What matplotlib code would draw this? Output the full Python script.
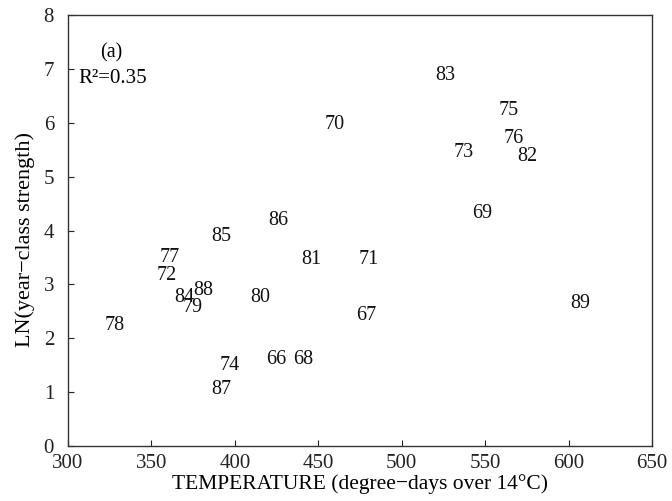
import matplotlib
matplotlib.use("Agg")
import matplotlib.pyplot as plt

years = ["66", "67", "68", "69", "70", "71", "72", "73", "74", "75", "76", "77",
         "78", "79", "80", "81", "82", "83", "84", "85", "86", "87", "88", "89"]
temperature = [425, 479, 441, 548, 460, 480, 359, 537, 397, 564, 567, 361,
               328, 375, 415, 446, 575, 526, 370, 392, 426, 392, 381, 607]
ln_strength = [1.61, 2.43, 1.60, 4.32, 5.96, 3.47, 3.17, 5.44, 1.50, 6.23, 5.70, 3.49,
               2.23, 2.58, 2.76, 3.47, 5.38, 6.88, 2.76, 3.88, 4.19, 1.04, 2.88, 2.65]

xticks = [300, 350, 400, 450, 500, 550, 600, 650]
yticks = [0, 1, 2, 3, 4, 5, 6, 7, 8]

plt.rcParams['font.family'] = ['Liberation Serif', 'DejaVu Serif']

fig = plt.figure(figsize=(6.72, 5.01), dpi=100)
ax = fig.add_axes([68 / 672, 1 - 446 / 501, (652 - 68) / 672, (446 - 15) / 501])

for yr, x, y in zip(years, temperature, ln_strength):
    ax.text(x, y, yr, ha='center', va='center', fontsize=14.5, color='#111111')

ax.set_xlim(300, 650)
ax.set_ylim(0, 8)
ax.set_xticks(xticks)
ax.set_yticks(yticks)
ax.tick_params(direction='in', length=4, width=0.8, labelsize=15,
               colors='#222222')
ax.tick_params(axis='x', pad=6)
ax.tick_params(axis='y', pad=10)
for s in ax.spines.values():
    s.set_linewidth(1.0)
    s.set_color('#333333')

ax.set_xlabel("TEMPERATURE (degree\u2212days over 14\u00b0C)", fontsize=15.5, labelpad=0.5)
ax.set_ylabel("LN(year\u2212class strength)", fontsize=16)
ax.yaxis.set_label_coords(-0.056, 0.48)

ax.text(326, 7.29, "(a)", fontsize=14.5, ha='center', va='center')
ax.text(306, 6.83, "R\u00b2=0.35", fontsize=15, ha='left', va='center')

fig.savefig("out.png", dpi=100)
